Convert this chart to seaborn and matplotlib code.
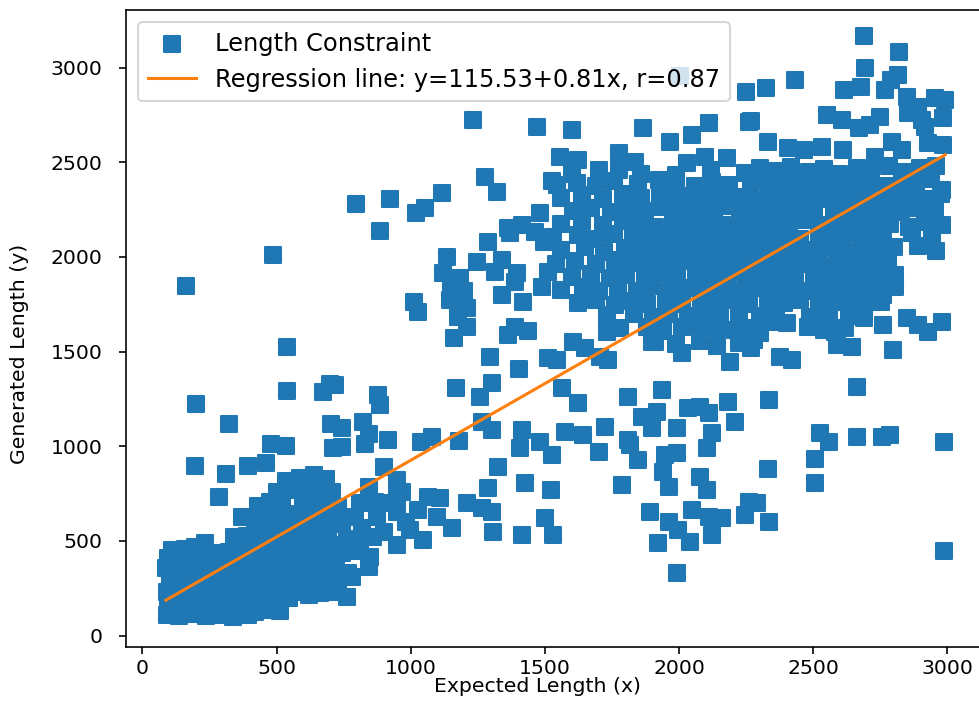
import numpy as np
import pandas as pd
import matplotlib
matplotlib.use("Agg")
import matplotlib.pyplot as plt
import seaborn as sns

# (expected length, generated length) pairs, grouped by area of the cloud

# dense block of short requests
low_cluster = [
    (92, 108), (138, 102), (186, 112), (238, 104), (290, 110), (338, 100), (392, 106),
    (112, 135), (162, 128), (214, 140), (262, 126), (316, 138), (366, 130), (418, 124), (466, 136), (512, 128),
    (96, 172), (150, 180), (198, 168), (252, 182), (302, 174), (350, 166), (402, 178), (452, 170), (500, 184), (548, 198),
    (90, 228), (134, 236), (186, 224), (236, 240), (284, 230), (332, 222), (380, 238), (430, 226), (482, 236),
    (528, 220), (572, 232), (620, 214), (662, 226), (700, 240),
    (102, 286), (150, 296), (202, 282), (250, 300), (298, 290), (352, 280), (400, 294), (448, 284), (502, 298),
    (552, 288), (598, 282), (648, 296), (690, 286),
    (88, 354), (140, 346), (190, 360), (242, 342), (292, 356), (340, 348), (392, 362), (440, 340), (492, 352),
    (540, 366), (592, 344), (638, 358), (682, 346),
    (96, 412), (146, 404), (196, 418), (246, 402), (296, 416), (344, 408), (396, 420), (446, 406), (494, 414),
    (546, 400), (596, 418), (646, 410), (700, 404),
    (110, 452), (160, 458), (198, 470), (234, 488), (282, 436), (324, 440), (352, 468), (400, 462), (452, 474),
    (500, 458), (552, 470), (600, 456), (650, 472), (700, 480),
    (342, 522), (390, 526), (438, 518), (488, 530), (540, 514), (588, 528), (640, 520), (690, 534),
    (420, 584), (470, 576), (520, 590), (572, 572), (620, 586), (668, 578), (715, 590),
    (430, 636), (480, 648), (530, 640), (600, 654), (640, 632), (684, 646),
    (432, 682), (474, 706), (520, 694), (600, 712), (650, 698), (700, 706),
    (500, 756), (556, 768), (612, 752), (654, 770), (705, 760),
    (534, 816), (588, 832), (640, 846), (686, 826),
]

# scattered short requests above the block
low_outliers = [
    (195, 895), (312, 851), (286, 730), (393, 895), (459, 913), (370, 628), (480, 1010), (535, 1000),
    (712, 989), (163, 1846), (486, 2010), (538, 1526), (538, 1292), (672, 1288), (698, 1327),
    (200, 1223), (323, 1117), (703, 1117),
]

# middle band, expected 700-1000
mid_band = [
    (744, 998), (830, 1010), (845, 1065), (916, 1035), (744, 1095), (824, 1130), (899, 892), (843, 786),
    (948, 822), (968, 760), (932, 700), (811, 698), (868, 707), (948, 733), (874, 628), (948, 654),
    (984, 600), (948, 478), (860, 522), (902, 548), (820, 566), (849, 416), (843, 364), (796, 446),
    (780, 311), (762, 205), (725, 231), (744, 434), (744, 593), (730, 680), (764, 510), (722, 380),
    (792, 626), (812, 482), (766, 330), (730, 290),
]

# expected 1000-1500
upper_mid = [
    (1040, 1020), (1180, 1030), (1079, 1050), (1265, 1130), (1302, 1086), (1414, 1086), (1408, 989), (1482, 1020),
    (1066, 733), (1110, 725), (1029, 663), (1097, 628), (1047, 505), (998, 557), (1153, 566), (1209, 698),
    (1265, 672), (1302, 654), (1308, 548), (1289, 778), (1324, 889), (1414, 531), (1426, 804), (1522, 769),
    (1500, 619), (1168, 1306), (1302, 1332), (1259, 1262), (1296, 1473), (1402, 1408), (1512, 1466),
    (880, 1270), (884, 1218), (718, 1323),
    (884, 2137), (795, 2280), (923, 2306), (1019, 2234), (1054, 2260), (1116, 2336), (1277, 2424), (1323, 2345),
    (1234, 2723), (1470, 2688), (1137, 2001), (1246, 1975), (1289, 2077), (1371, 2125), (1464, 2133),
    (1495, 2080), (1122, 1914), (1184, 1887), (1315, 1922), (1340, 1984), (1395, 1914), (1389, 1869),
    (1489, 1843), (1513, 1922), (1340, 1799), (1420, 1764), (1014, 1764), (1026, 1707), (1147, 1772),
    (1209, 1728), (1178, 1684), (1209, 1631), (1163, 1570), (1364, 1587), (1389, 1631), (1439, 1609),
    (1482, 2230), (1414, 2169), (1364, 2153), (1525, 2400), (1150, 1840), (1200, 1820),
]

# long requests answered too briefly
long_short = [
    (1526, 954), (1532, 531), (1700, 971), (1817, 1006), (1849, 927), (1787, 795), (1948, 954),
    (1992, 962), (1942, 865), (1961, 786), (2079, 839), (2106, 769), (2104, 989), (1892, 654), (1961, 601),
    (1998, 557), (1923, 487), (2042, 496), (2048, 663), (2110, 628), (2160, 619), (2122, 531), (2246, 637),
    (2259, 707), (1992, 329), (2331, 878), (2290, 700), (2336, 601), (2505, 932), (2505, 804), (2558, 1020),
    (2664, 1050), (2755, 1050), (2787, 1059), (2987, 1020), (2988, 448),
    (1563, 1306), (1625, 1227), (1811, 1262), (1936, 1297), (1861, 1156), (1917, 1182), (1898, 1095),
    (2035, 1200), (2079, 1209), (2110, 1174), (2184, 1235), (2209, 1130), (1575, 1077), (1644, 1059),
    (1725, 1103), (1992, 1095), (2122, 1068), (1811, 1033), (2336, 1244), (2665, 1315), (2526, 1068),
    (1544, 1455), (1606, 1552), (1650, 1517), (1737, 1455), (1706, 1473), (2191, 1447), (2377, 1473),
    (2420, 1455), (2300, 1600), (2278, 1561),
]

# top edge of the long-request cloud
long_top = [
    (2690, 3167), (2821, 3084), (2692, 2998), (2432, 2933), (2323, 2890), (2615, 2880), (2678, 2898),
    (2790, 2935), (2768, 2882), (2818, 2961), (2849, 2846), (2954, 2838), (2992, 2829), (2985, 2732),
    (2892, 2794), (2905, 2723), (2917, 2688), (2855, 2759), (2551, 2750), (2607, 2723), (2669, 2679),
    (2750, 2741), (2712, 2697), (2985, 2591), (2929, 2600), (2979, 2354), (2954, 2248), (2333, 2609),
    (2408, 2574), (2464, 2565), (2532, 2582), (2613, 2565), (2731, 2529), (2793, 2609), (2830, 2565),
    (2004, 2956), (2250, 2873), (2267, 2719), (1600, 2670), (1867, 2679), (1967, 2609), (2048, 2644),
    (2110, 2706), (2259, 2714), (1775, 2547), (1837, 2503), (1557, 2529), (1625, 2512), (1700, 2459),
    (1775, 2459), (1924, 2406), (2029, 2494), (2097, 2529), (2178, 2521), (2246, 2442),
    (1860, 2440), (1990, 2430), (2120, 2460), (1600, 2440),
]

# body of the long-request cloud
long_body = [
    (2300, 2470), (2362, 2452), (2418, 2476), (2484, 2448), (2540, 2466), (2598, 2440), (2664, 2472),
    (2716, 2450), (2784, 2478), (2842, 2446), (2898, 2470), (2956, 2480),
    (1545, 2380), (1618, 2392), (1690, 2376), (1756, 2400), (1846, 2384), (1990, 2394), (2058, 2372),
    (2124, 2398), (2188, 2380), (2270, 2396), (2334, 2378), (2398, 2402), (2462, 2386), (2522, 2370),
    (2584, 2398), (2650, 2380), (2712, 2404), (2770, 2374), (2832, 2392), (2884, 2380), (2940, 2410),
    (1562, 2310), (1640, 2328), (1718, 2304), (1792, 2330), (1858, 2312), (1928, 2326), (1992, 2300),
    (2052, 2322), (2112, 2306), (2172, 2334), (2232, 2316), (2294, 2302), (2358, 2328), (2422, 2312),
    (2488, 2336), (2552, 2306), (2618, 2324), (2682, 2310), (2744, 2336), (2802, 2300), (2862, 2322),
    (2920, 2308), (2975, 2330),
    (1604, 2244), (1672, 2260), (1748, 2236), (1810, 2256), (1872, 2240), (1938, 2264), (2002, 2238),
    (2064, 2256), (2130, 2242), (2192, 2268), (2252, 2236), (2312, 2254), (2372, 2240), (2440, 2262),
    (2502, 2246), (2578, 2234), (2640, 2258), (2702, 2244), (2764, 2262), (2828, 2238), (2890, 2256),
    (2952, 2248),
    (1560, 2174), (1640, 2188), (1718, 2168), (1790, 2192), (1852, 2176), (1912, 2160), (1978, 2186),
    (2040, 2172), (2102, 2194), (2162, 2170), (2228, 2184), (2290, 2166), (2352, 2190), (2410, 2172),
    (2470, 2196), (2538, 2168), (2602, 2182), (2662, 2170), (2724, 2194), (2788, 2176), (2858, 2160),
    (2918, 2186), (2980, 2168),
    (1532, 2104), (1622, 2118), (1690, 2096), (1758, 2120), (1828, 2102), (1890, 2116), (1952, 2094),
    (2012, 2124), (2078, 2106), (2140, 2118), (2202, 2098), (2268, 2122), (2330, 2104), (2392, 2116),
    (2452, 2092), (2520, 2120), (2580, 2108), (2640, 2124), (2700, 2100), (2762, 2114), (2870, 2126),
    (2942, 2100),
    (1560, 2036), (1650, 2050), (1722, 2028), (1800, 2046), (1860, 2030), (1924, 2054), (1990, 2032),
    (2050, 2048), (2112, 2026), (2172, 2052), (2240, 2034), (2300, 2046), (2362, 2028), (2430, 2054),
    (2490, 2036), (2552, 2050), (2612, 2030), (2680, 2046), (2742, 2032), (2800, 2052), (2892, 2060),
    (2958, 2030),
    (1542, 1962), (1612, 1978), (1690, 1960), (1762, 1984), (1822, 1966), (1890, 1980), (1952, 1958),
    (2020, 1976), (2082, 1962), (2140, 1986), (2202, 1964), (2270, 1980), (2332, 1960), (2400, 1978),
    (2462, 1964), (2522, 1986), (2590, 1958), (2650, 1974), (2712, 1962), (2780, 1980),
    (1602, 1894), (1672, 1910), (1742, 1888), (1802, 1906), (1872, 1892), (1932, 1914), (1992, 1890),
    (2062, 1908), (2122, 1894), (2184, 1916), (2250, 1890), (2312, 1906), (2372, 1888), (2432, 1912),
    (2502, 1896), (2562, 1910), (2622, 1886), (2690, 1904), (2752, 1892), (2805, 1905),
    (1562, 1824), (1642, 1840), (1702, 1818), (1772, 1836), (1842, 1822), (1902, 1844), (1972, 1820),
    (2032, 1838), (2092, 1826), (2162, 1842), (2222, 1818), (2282, 1836), (2352, 1824), (2412, 1844),
    (2472, 1820), (2542, 1836), (2602, 1826), (2662, 1840), (2732, 1822), (2805, 1843),
    (1622, 1754), (1692, 1770), (1762, 1748), (1822, 1766), (1882, 1752), (1952, 1772), (2012, 1750),
    (2082, 1768), (2142, 1756), (2202, 1774), (2262, 1750), (2332, 1766), (2392, 1754), (2452, 1772),
    (2522, 1748), (2582, 1764), (2642, 1756), (2702, 1770), (2762, 1799), (2753, 1764),
    (1730, 1692), (1832, 1700), (1902, 1682), (1962, 1698), (2032, 1686), (2092, 1704), (2152, 1680),
    (2222, 1696), (2302, 1688), (2362, 1702), (2490, 1684), (2560, 1700), (2632, 1690), (2690, 1676),
    (1780, 1622), (1880, 1630), (1940, 1610), (2010, 1628), (2080, 1614), (2150, 1632), (2210, 1612),
    (2270, 1626), (2482, 1630), (2540, 1612), (2620, 1624),
    (1900, 1552), (1990, 1540), (2080, 1558), (2140, 1530), (2222, 1546), (2270, 1520),
    (2352, 1658), (2401, 1649), (2513, 1667), (2581, 1605), (2588, 1535), (2645, 1526), (2762, 1640),
    (2799, 1508), (2849, 1676), (2892, 1640), (2929, 1605), (2979, 1658),
    (1731, 1658), (1731, 1605), (1911, 1552), (2010, 1491), (2147, 1623), (2222, 1587),
]

intercept = 115.53
slope = 0.81
r_value = 0.87

BLUE = "#1f77b4"
ORANGE = "#ff7f0e"

points = low_cluster + low_outliers + mid_band + upper_mid + long_short + long_top + long_body
df = pd.DataFrame(points, columns=["expected", "generated"])

dpi = 147
fig = plt.figure(figsize=(979 / dpi, 724 / dpi), dpi=dpi)
ax = fig.add_axes([0.1287, 0.1068, 1.0041 - 0.1287, 0.9862 - 0.1068])

sns.scatterplot(data=df, x="expected", y="generated", marker="s", s=56,
                color=BLUE, edgecolor=BLUE, linewidth=1.0,
                label="Length Constraint", ax=ax)

x_line = np.array([df["expected"].min(), df["expected"].max()], dtype=float)
y_line = intercept + slope * x_line
sns.lineplot(x=x_line, y=y_line, color=ORANGE, linewidth=1.5,
             label=f"Regression line: y={intercept:.2f}+{slope:.2f}x, r={r_value:.2f}", ax=ax)

ax.set_xlim(-61, 3133)
ax.set_ylim(-59, 3304)
ax.set_xticks([0, 500, 1000, 1500, 2000, 2500, 3000])
ax.set_yticks([0, 500, 1000, 1500, 2000, 2500, 3000])
ax.tick_params(axis="y", pad=8)
ax.tick_params(axis="x", pad=2.5)
ax.set_xlabel("Expected Length (x)")
ax.set_ylabel("Generated Length (y)")
ax.xaxis.set_label_coords(0.48, -0.047)
ax.yaxis.set_label_coords(-0.113, 0.46)
ax.legend(loc="upper left", fontsize=11.8)

fig.savefig("out.png", dpi=dpi)
